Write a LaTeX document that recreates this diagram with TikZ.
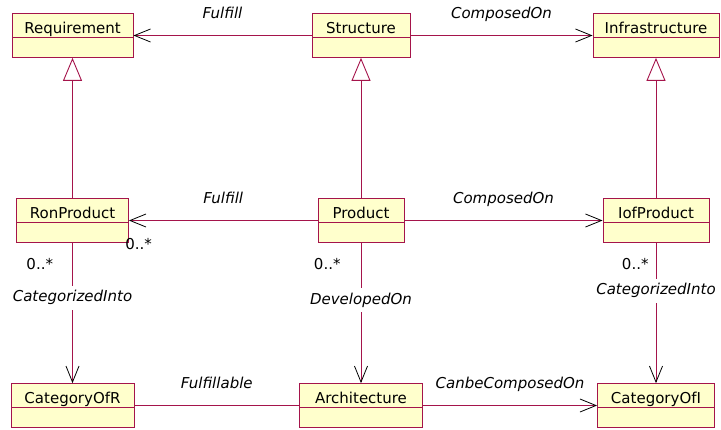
\documentclass[tikz,border=0pt]{standalone}
\usepackage{fontspec}
\setmainfont{DejaVu Sans}[Scale=1.5]
\usetikzlibrary{shapes.multipart, positioning, arrows.meta}
\definecolor{umlline}{RGB}{165,20,75}
\definecolor{umlfill}{RGB}{255,255,204}
\tikzset{
    class/.style={rectangle split, rectangle split parts=2, draw=umlline, fill=umlfill, line width=0.9pt,
        inner ysep=2pt, text height=17pt, text depth=2pt,
        rectangle split empty part height=15pt, rectangle split empty part depth=0pt}, % two compartments
    assoc/.style={draw=umlline, line width=0.9pt}, % plain association line
    navi/.style={-{Straight Barb[length=16pt, width=13pt, color=black, line width=0.8pt]}}, % open arrow
    gen/.style={-{Triangle[open, length=23pt, width=19pt]}}, % generalization
    role/.style={font=\itshape, text=black, text height=11pt, text depth=3pt}, % association names
    mult/.style={text=black}, % multiplicities
    node distance=185pt,
}
\begin{document}
\begin{tikzpicture}[x=1pt, y=1pt]
    \useasboundingbox (0,0) rectangle (721,-429);
    \node[class, minimum width=121pt] (req) at (72.5,-35.5) {Requirement};
    \node[class, minimum width=98pt] (str) at (361,-35.5) {Structure};
    \node[class, minimum width=126pt] (inf) at (656,-35.5) {Infrastructure};
    \node[class, minimum width=112pt, below of=req] (ron) {RonProduct};
    \node[class, minimum width=86pt, below of=str] (prd) {Product};
    \node[class, minimum width=106pt, below of=inf] (iof) {IofProduct};
    \node[class, minimum width=123pt, below of=ron] (cor) {CategoryOfR};
    \node[class, minimum width=123pt, below of=prd] (arc) {Architecture};
    \node[class, minimum width=117pt, below of=iof] (coi) {CategoryOfI};
    \draw[assoc] (str) edge[navi] node[role, above=9pt] {Fulfill} (req)
        (str) edge[navi] node[role, above=9pt] {ComposedOn} (inf)
        (ron) edge[gen] (req)
        (prd) edge[gen] (str)
        (iof) edge[gen] (inf)
        (prd) edge[navi] node[role, above=9pt] {Fulfill}
            node[mult, pos=1, below right=12pt and -9pt] {0..*} (ron)
        (prd) edge[navi] node[role, above=9pt] {ComposedOn} (iof)
        (ron) edge[navi] node[mult, pos=0.15, left=14pt] {0..*}
            node[role, pos=0.39, fill=white] {CategorizedInto} (cor)
        (prd) edge[navi] node[mult, pos=0.15, left=15pt] {0..*}
            node[role, pos=0.41, fill=white] {DevelopedOn} (arc)
        (iof) edge[navi] node[mult, pos=0.15, left=2pt] {0..*}
            node[role, pos=0.34, fill=white] {CategorizedInto} (coi)
        (cor) edge node[role, above=9pt] {Fulfillable} (arc)
        (arc) edge[navi] node[role, above=9pt] {CanbeComposedOn} (coi);
\end{tikzpicture}
\end{document}
